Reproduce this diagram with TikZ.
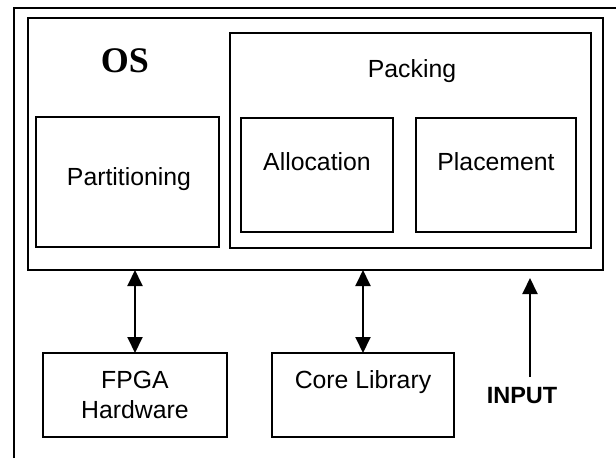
\documentclass[tikz,border=0pt]{standalone}
\usepackage{fontspec}
\setmainfont{Liberation Sans}
\newfontfamily\osfont{Liberation Serif}
\usetikzlibrary{arrows.meta}
\begin{document}
\begin{tikzpicture}[x=1pt,y=-1pt,
  box/.style={draw, line width=1.9pt, inner sep=0pt, outer sep=0pt, anchor=north west},
  lbl/.style={font=\fontsize{24.8}{29}\selectfont, inner sep=0pt, anchor=base},
  arr/.style={line width=1.9pt, -{Triangle[length=16pt,width=15pt]}},
  dbl/.style={line width=1.9pt, {Triangle[length=16pt,width=15pt]}-{Triangle[length=16pt,width=15pt]}}]
\useasboundingbox (0,0) rectangle (616,458);
\fill[white] (0,0) rectangle (616,458);
% outer frame (cut at right and bottom)
\coordinate (fbl) at (14,458);
\coordinate (ftl) at (14,8);
\coordinate (ftr) at (616,8);
\draw[line width=1.9pt] (fbl) -- (ftl) -- (ftr);
% boxes
\node[box, line width=2.2pt, minimum width=575pt, minimum height=252pt] (os) at (28,18) {};
\node[box, minimum width=361pt, minimum height=215pt] (packing) at (230,33) {};
\node[box, minimum width=183pt, minimum height=130pt] (part) at (36,117) {};
\node[box, minimum width=152pt, minimum height=114pt] (alloc) at (241,118) {};
\node[box, minimum width=160pt, minimum height=114pt] (place) at (416,118) {};
\node[box, minimum width=184pt, minimum height=84pt] (fpga) at (43,353) {};
\node[box, minimum width=182pt, minimum height=84pt] (core) at (272,353) {};
% labels
\node[anchor=base, inner sep=0pt, font=\osfont\bfseries\fontsize{36}{40}\selectfont] (ost) at (125,72) {OS};
\node[lbl] (packt) at (412,77) {Packing};
\node[lbl] (partt) at (129,185) {Partitioning};
\node[lbl] (allt) at (317,170) {Allocation};
\node[lbl] (plat) at (496,170) {Placement};
\node[lbl] (fpgat1) at (135,388) {FPGA};
\node[lbl] (fpgat2) at (135,418) {Hardware};
\node[lbl] (coret) at (363,388) {Core Library};
\node[lbl, font=\bfseries\fontsize{23.5}{28}\selectfont] (input) at (522,403) {INPUT};
% connectors
\draw[dbl] (os.south -| fpga.north) -- (fpga.north);
\draw[dbl] (os.south -| core.north) -- (core.north);
\coordinate (inbot) at (530,377);
\coordinate (intop) at (530,278);
\draw[arr] (inbot) -- (intop);
\end{tikzpicture}
\end{document}
